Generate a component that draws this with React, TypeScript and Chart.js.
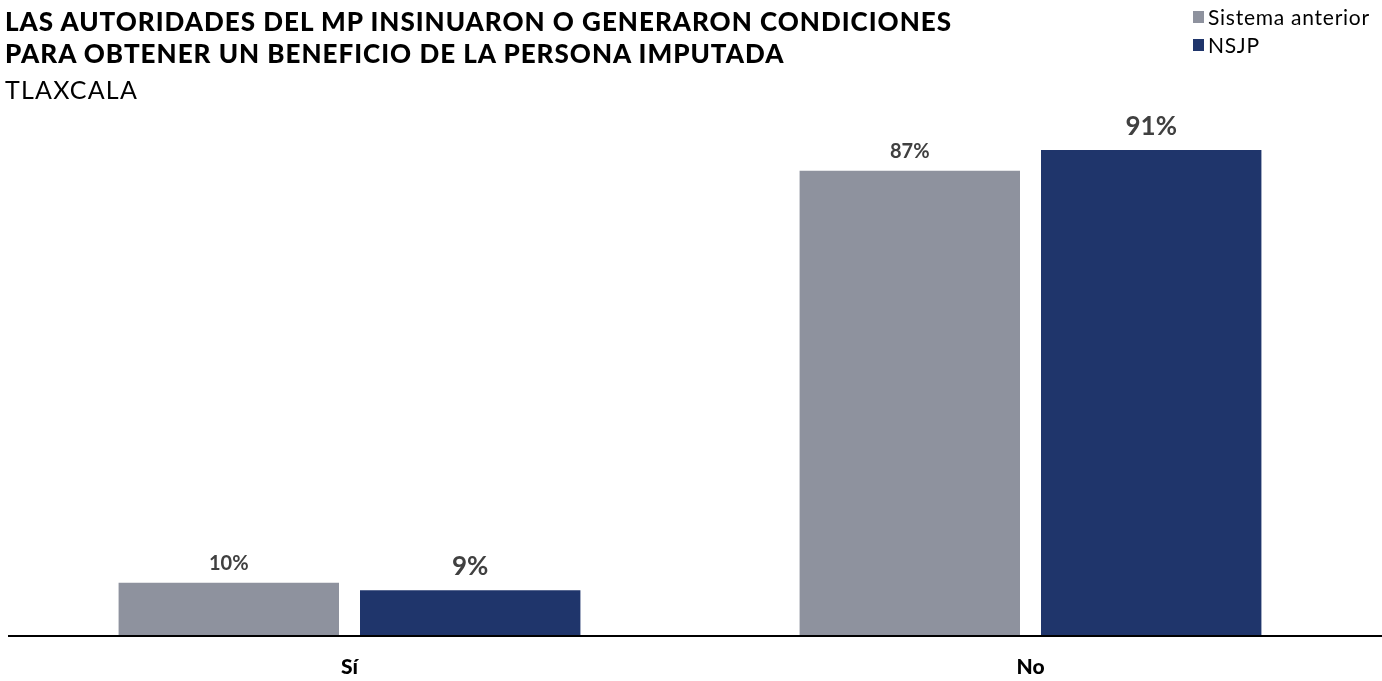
import React, { useEffect, useRef } from "react";
import { Chart, registerables } from "chart.js";

Chart.register(...registerables);

const titleLines = [
  "LAS AUTORIDADES DEL MP INSINUARON O GENERARON CONDICIONES",
  "PARA OBTENER UN BENEFICIO DE LA PERSONA IMPUTADA",
];
const subtitle = "TLAXCALA";
const categories = ["Sí", "No"];
const seriesNames = ["Sistema anterior", "NSJP"];
const sistemaAnterior = [9.8, 87.1];
const nsjp = [8.4, 91.0];
const labelsAnterior = ["10%", "87%"];
const labelsNsjp = ["9%", "91%"];
const colors = ["#8E929E", "#1F356B"];

const W = 1382;
const H = 681;

export default function App() {
  const ref = useRef<HTMLCanvasElement | null>(null);

  useEffect(() => {
    document.body.style.margin = "0";
    const canvas = ref.current;
    if (!canvas) return;

    const labelPlugin = {
      id: "barLabels",
      afterDatasetsDraw(chart: any) {
        const ctx = chart.ctx;
        const sets = [
          { labels: labelsAnterior, font: "bold 20px Lato", off: 13 },
          { labels: labelsNsjp, font: "bold 26px Lato", off: 15 },
        ];
        chart.data.datasets.forEach((_: any, di: number) => {
          const meta = chart.getDatasetMeta(di);
          meta.data.forEach((el: any, i: number) => {
            ctx.save();
            ctx.font = sets[di].font;
            ctx.fillStyle = "#404040";
            ctx.textAlign = "center";
            ctx.textBaseline = "alphabetic";
            ctx.fillText(sets[di].labels[i], el.x, el.y - sets[di].off);
            ctx.restore();
          });
        });
      },
    };

    const baselinePlugin = {
      id: "baseline",
      afterDatasetsDraw(chart: any) {
        const ctx = chart.ctx;
        const y = chart.scales.y.getPixelForValue(0);
        ctx.save();
        ctx.strokeStyle = "#000000";
        ctx.lineWidth = 2;
        ctx.beginPath();
        ctx.moveTo(8, y + 1);
        ctx.lineTo(chart.width, y + 1);
        ctx.stroke();
        ctx.restore();
      },
    };

    const chart = new Chart(canvas, {
      type: "bar",
      data: {
        labels: categories,
        datasets: [
          {
            label: seriesNames[0],
            data: sistemaAnterior,
            backgroundColor: colors[0],
            categoryPercentage: 0.709,
            barPercentage: 0.913,
          },
          {
            label: seriesNames[1],
            data: nsjp,
            backgroundColor: colors[1],
            categoryPercentage: 0.709,
            barPercentage: 0.913,
          },
        ],
      },
      options: {
        responsive: false,
        animation: false,
        layout: { padding: { top: 102, left: 9, right: 11, bottom: 1 } },
        plugins: {
          legend: { display: false },
          title: { display: false },
          tooltip: { enabled: false },
        },
        scales: {
          x: {
            grid: { display: false, drawTicks: false },
            border: { display: false },
            ticks: {
              color: "#000000",
              font: { family: "Lato", size: 21, weight: "900" },
              padding: 20,
            },
            afterFit(scale: any) {
              scale.height = 45;
            },
          },
          y: {
            display: false,
            min: 0,
            max: 100,
          },
        },
      },
      plugins: [labelPlugin, baselinePlugin],
    });
    return () => chart.destroy();
  }, []);

  return (
    <div style={{ position: "relative", width: W, height: H, fontFamily: "Lato", overflow: "hidden" }}>
      <canvas ref={ref} width={W} height={H} style={{ position: "absolute", left: 0, top: 0 }} />
      <div
        style={{
          position: "absolute",
          left: 5,
          top: 5,
          fontSize: 26,
          lineHeight: "32px",
          fontWeight: 900,
          letterSpacing: "1px",
          color: "#000",
          whiteSpace: "nowrap",
        }}
      >
        {titleLines.map((t) => (
          <div key={t}>{t}</div>
        ))}
      </div>
      <div
        style={{
          position: "absolute",
          left: 5,
          top: 73,
          fontSize: 25,
          lineHeight: "32px",
          fontWeight: 400,
          letterSpacing: "1.2px",
          color: "#000",
        }}
      >
        {subtitle}
      </div>
      <div
        style={{
          position: "absolute",
          left: 1193,
          top: 3,
          fontSize: 21,
          lineHeight: "28px",
          letterSpacing: "0.75px",
          color: "#000",
        }}
      >
        {seriesNames.map((n, i) => (
          <div key={n} style={{ display: "flex", alignItems: "center", whiteSpace: "nowrap" }}>
            <span style={{ display: "inline-block", width: 11, height: 12, background: colors[i], marginRight: 4 }} />
            <span>{n}</span>
          </div>
        ))}
      </div>
    </div>
  );
}
